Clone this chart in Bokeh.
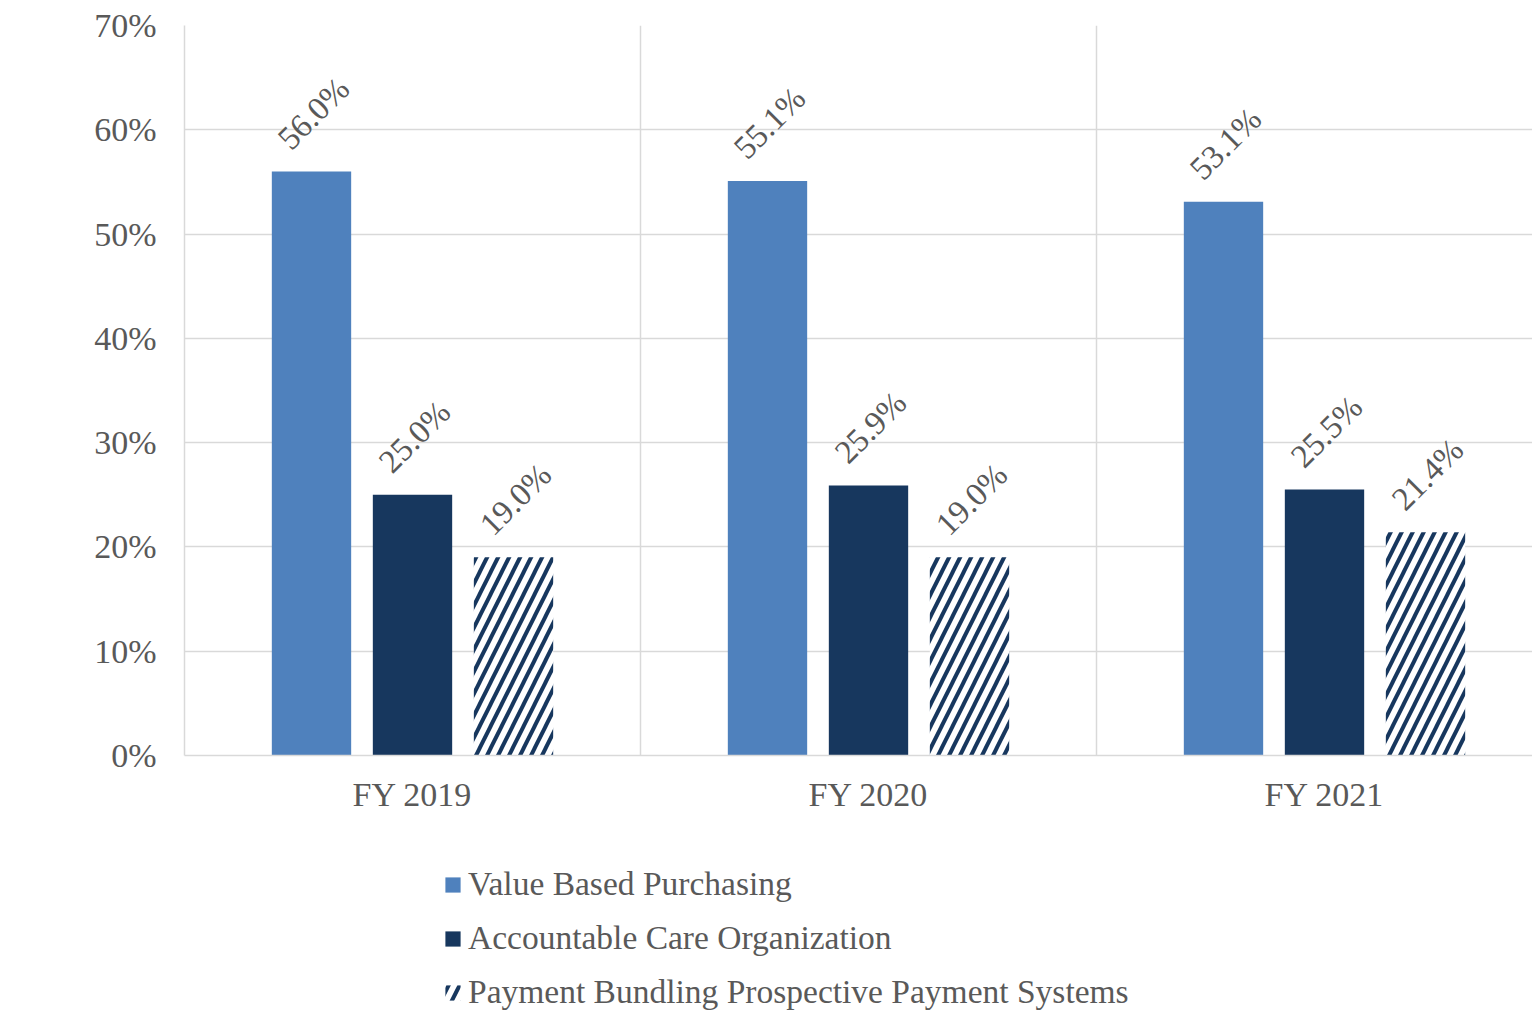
import math
from bokeh.plotting import figure
from bokeh.layouts import column
from bokeh.models import (ColumnDataSource, FixedTicker, PrintfTickFormatter,
                          Legend, LegendItem, Range1d)
from bokeh.core.properties import value
from bokeh.embed import file_html
from bokeh.resources import INLINE

categories = ["FY 2019", "FY 2020", "FY 2021"]
series_names = ["Value Based Purchasing", "Accountable Care Organization",
                "Payment Bundling Prospective Payment Systems"]
value_based = [56.0, 55.1, 53.1]
accountable_care = [25.0, 25.9, 25.5]
payment_bundling = [19.0, 19.0, 21.4]
y_ticks = [0, 10, 20, 30, 40, 50, 60, 70]

FONT = "Liberation Serif"
TXT = "#595959"
FS = "34px"

p = figure(width=1532, height=830, output_backend="svg", toolbar_location=None,
           x_range=Range1d(0, 1348 / 456), y_range=Range1d(0, 70),
           min_border_left=184, min_border_right=0, min_border_top=25,
           min_border_bottom=75)
p.outline_line_color = None
p.background_fill_color = "white"

offsets = [-0.2215, 0.0, 0.2215]
bar_w = 0.174
series = [value_based, accountable_care, payment_bundling]
styles = [
    dict(fill_color="#4F81BD", line_color=None),
    dict(fill_color="#17375E", line_color=None),
    dict(fill_color="white", line_color=None, hatch_pattern="right_diagonal_line",
         hatch_color="#17375E", hatch_scale=22, hatch_weight=4),
]
for vals, off, st in zip(series, offsets, styles):
    xs = [i + 0.5 + off for i in range(len(categories))]
    src = ColumnDataSource(dict(x=xs, top=vals,
                                lab=["%.1f%%" % v for v in vals]))
    p.vbar(x="x", top="top", width=bar_w, source=src, **st)
    p.text(x="x", y="top", text="lab", source=src, angle=math.pi / 4,
           text_align="center", text_baseline="middle", x_offset=2, y_offset=-58,
           text_font=value(FONT), text_font_size="33px", text_color=TXT)

# axes
p.yaxis.ticker = FixedTicker(ticks=y_ticks)
p.yaxis.formatter = PrintfTickFormatter(format="%d%%")
p.xaxis.ticker = FixedTicker(ticks=[i + 0.5 for i in range(len(categories))])
p.xaxis.major_label_overrides = {i + 0.5: c for i, c in enumerate(categories)}
for ax in (p.xaxis, p.yaxis):
    ax.axis_line_color = "#D9D9D9"
    ax.axis_line_width = 1.5
    ax.major_tick_line_color = None
    ax.minor_tick_line_color = None
    ax.major_label_text_font = FONT
    ax.major_label_text_font_size = FS
    ax.major_label_text_color = TXT
p.yaxis.major_label_standoff = 22
p.xaxis.major_label_standoff = 14

p.ygrid.ticker = FixedTicker(ticks=y_ticks)
p.ygrid.grid_line_color = "#D9D9D9"
p.ygrid.grid_line_width = 1.5
p.xgrid.ticker = FixedTicker(ticks=[0, 1, 2, 3])
p.xgrid.grid_line_color = "#D9D9D9"
p.xgrid.grid_line_width = 1.5

# legend panel (frame aligned with the chart's frame by the column layout)
lg = figure(width=1532, height=197, output_backend="svg", toolbar_location=None,
            x_range=Range1d(0, 1), y_range=Range1d(0, 1),
            min_border=0, x_axis_location=None, y_axis_location=None)
lg.outline_line_color = None
lg.xgrid.visible = False
lg.ygrid.visible = False
dummies = [lg.vbar(x=[5], top=[0], bottom=[0], width=0.0, **st) for st in styles]
legend = Legend(items=[LegendItem(label=n, renderers=[r]) for n, r in zip(series_names, dummies)],
                location=(259, 8), orientation="vertical",
                label_text_font=FONT, label_text_font_size="33.5px", label_text_color=TXT,
                glyph_width=19, glyph_height=19, label_standoff=6, label_height=54,
                spacing=0, padding=0, margin=0, border_line_color=None,
                background_fill_alpha=0)
lg.add_layout(legend, "center")

open("out.html", "w").write(file_html(column(p, lg, spacing=0), INLINE))
